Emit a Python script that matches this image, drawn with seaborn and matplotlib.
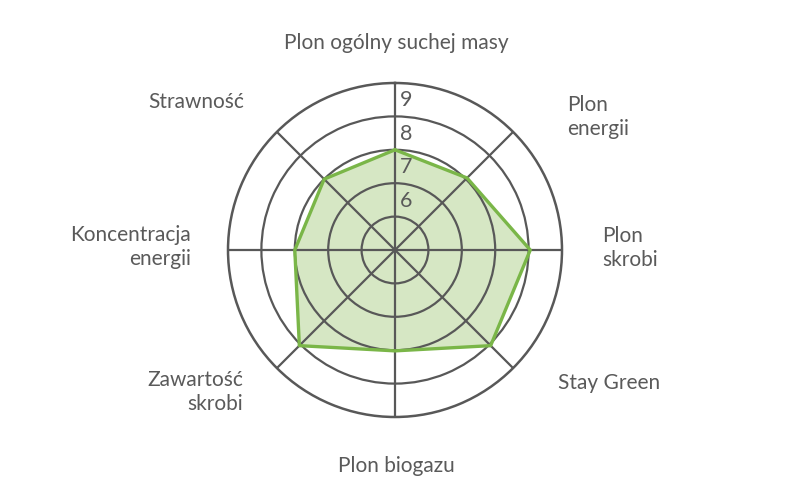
import numpy as np
import matplotlib
matplotlib.use("Agg")
import matplotlib.pyplot as plt
import matplotlib.transforms as mtransforms
import seaborn as sns

# Data (clockwise from top)
categories = ["Plon ogólny suchej masy", "Plon\nenergii", "Plon\nskrobi", "Stay Green",
              "Plon biogazu", "Zawartość\nskrobi", "Koncentracja\nenergii", "Strawność"]
values = [7.0, 7.05, 8.05, 8.05, 7.02, 8.05, 7.0, 7.0]
ring_values = [5, 6, 7, 8]
tick_labels = ["6", "7", "8", "9"]

# label placement in pixels (x, y, ha)
label_pos = [(396, 43, "center"), (567, 117, "left"), (602, 248, "left"), (558, 383, "left"),
             (396, 466, "center"), (243, 392, "right"), (191, 247, "right"), (244, 102, "right")]

sns.set_theme(style="white")
plt.rcParams["font.family"] = ["Lato", "DejaVu Sans"]

grey = "#585858"
text_col = "#5a5a5a"
green = "#7ab648"
fill_col = "#d6e7c4"

W, H = 791, 500
fig = plt.figure(figsize=(W / 100, H / 100), dpi=100)
cx, cy, rad = 395, 250, 167
ax = fig.add_axes([(cx - rad) / W, (cy - rad) / H, 2 * rad / W, 2 * rad / H], projection="polar")
ax.set_theta_zero_location("N")
ax.set_theta_direction(-1)

angles = np.linspace(0, 2 * np.pi, len(categories), endpoint=False)
ang_closed = np.append(angles, 2 * np.pi)
val_closed = np.append(values, values[0])

ax.fill(ang_closed, val_closed, color=fill_col, zorder=1)
sns.lineplot(x=ang_closed, y=val_closed, sort=False, estimator=None, ax=ax,
             color=green, lw=2.4, zorder=3)

ax.set_ylim(4, 9)
ax.set_yticks(ring_values)
ax.set_yticklabels([])
ax.set_xticks(angles)
ax.set_xticklabels([])
ax.grid(True, color=grey, lw=1.6)
ax.set_axisbelow(False)
ax.spines["polar"].set_color(grey)
ax.spines["polar"].set_linewidth(1.8)
ax.set_xlabel("")
ax.set_ylabel("")

offs = mtransforms.offset_copy(ax.transData, fig=fig, x=5, y=0, units="dots")
for r, t in zip(ring_values, tick_labels):
    ax.text(0, r + 0.48, t, transform=offs, ha="left", va="center",
            fontsize=15.5, color=text_col, zorder=4)

for lab, (px, py, ha) in zip(categories, label_pos):
    fig.text(px / W, 1 - py / H, lab, ha=ha, va="center", multialignment=ha,
             fontsize=15, color=text_col, linespacing=1.2)

fig.savefig("out.png", dpi=100)
